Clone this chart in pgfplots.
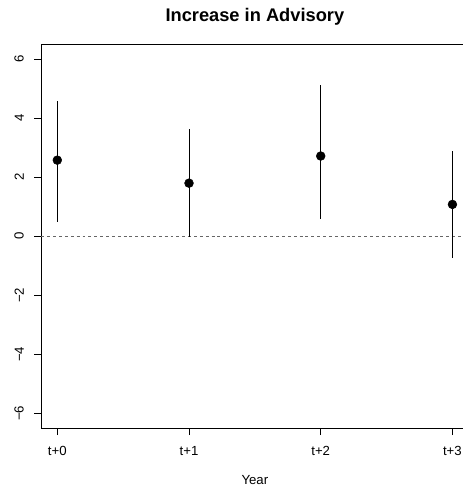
\documentclass[border=0pt]{standalone}
\usepackage{pgfplots}
\pgfplotsset{compat=1.18}
\usepackage{fontspec}
\setmainfont{Liberation Sans}
\begin{document}
\begin{tikzpicture}[ylabels/.style={rotate=90, anchor=south, inner sep=0pt, font=\fontsize{9.9}{11}\selectfont}]
\begin{axis}[
  at={(0,0)}, anchor=south west,
  scale only axis, width=316.1pt, height=287.6pt,
  xmin=-0.12, xmax=3.08, ymin=-6.5, ymax=6.5,
  axis lines=left, axis line style={-, line width=0.75pt, black},
  clip=false,
  tick align=outside, major tick length=5.25pt,
  tick style={black, line width=0.75pt},
  xtick={0,1,2,3}, xticklabels={t+0,t+1,t+2,t+3},
  ytick={-6,-4,-2,0,2,4,6},
  yticklabels={},
  tick label style={font=\fontsize{9.9}{11}\selectfont},
  xticklabel style={inner sep=0pt, anchor=base},
  xticklabel shift=15pt,
]
\draw[line width=0.75pt, black] (rel axis cs:0,1) -- (rel axis cs:1,1);
\addplot[gray!80!black, dash pattern=on 2.2pt off 2.2pt, line width=0.75pt, forget plot] coordinates {(-0.12,0) (3.08,0)};
\addplot[only marks, mark=*, mark size=3.3pt, black,
  error bars/.cd, y dir=both, y explicit, error mark=none,
  error bar style={line width=0.75pt, black}]
  coordinates {
    (0,2.58) += (0,2.00) -= (0,2.11)
    (1,1.80) += (0,1.82) -= (0,1.82)
    (2,2.72) += (0,2.42) -= (0,2.14)
    (3,1.08) += (0,1.80) -= (0,1.83)
  };
\node[ylabels] at ([xshift=-13.1pt]axis cs:-0.12,-6) {−6};
\node[ylabels] at ([xshift=-13.1pt]axis cs:-0.12,-4) {−4};
\node[ylabels] at ([xshift=-13.1pt]axis cs:-0.12,-2) {−2};
\node[ylabels] at ([xshift=-13.1pt]axis cs:-0.12,0) {0};
\node[ylabels] at ([xshift=-13.1pt]axis cs:-0.12,2) {2};
\node[ylabels] at ([xshift=-13.1pt]axis cs:-0.12,4) {4};
\node[ylabels] at ([xshift=-13.1pt]axis cs:-0.12,6) {6};
\node[font=\fontsize{13.7}{15}\selectfont\bfseries, anchor=base, inner sep=0pt] at ([yshift=17.1pt]axis cs:1.5,6.5) {Increase in Advisory};
\node[font=\fontsize{9.9}{11}\selectfont, anchor=base, inner sep=0pt] at ([yshift=-42pt]axis cs:1.5,-6.5) {Year};
\end{axis}
\pgfresetboundingbox
\useasboundingbox (-31.125pt,-43.5pt) rectangle (316.125pt,321pt);
\end{tikzpicture}
\end{document}
